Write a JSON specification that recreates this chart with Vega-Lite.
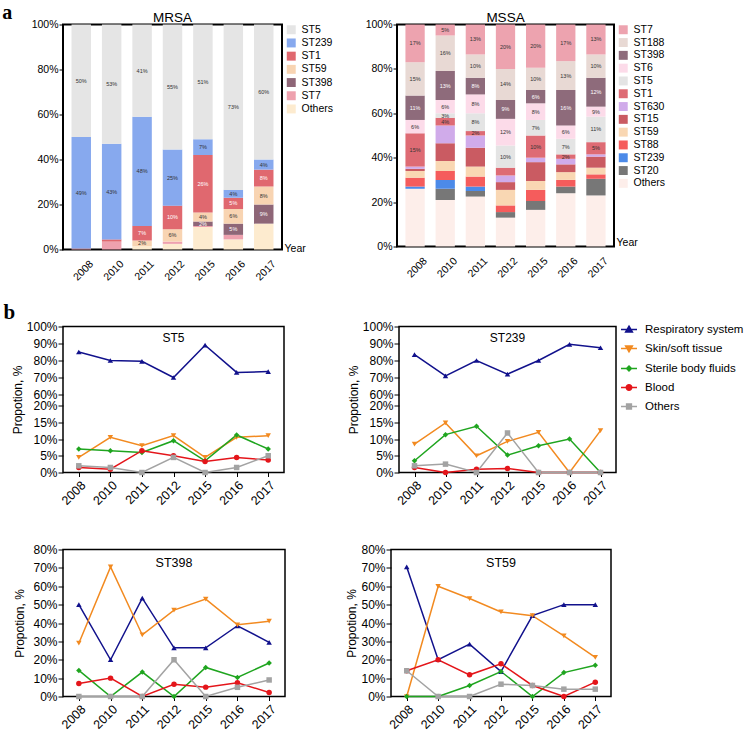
{
  "$schema": "https://vega.github.io/schema/vega-lite/v6.json",
  "padding": {"left": 2, "top": 2.5, "right": 0, "bottom": 0},
  "background": "white",
  "config": {
    "font": "Liberation Sans",
    "axis": {"labelColor": "black", "titleColor": "black", "tickColor": "black", "domainColor": "black", "grid": false, "labelFont": "Liberation Sans", "titleFont": "Liberation Sans", "labelOverlap": false},
    "legend": {"labelColor": "black", "labelFont": "Liberation Sans"},
    "title": {"color": "black", "fontWeight": "normal", "font": "Liberation Sans"},
    "text": {"font": "Liberation Sans"}
  },
  "datasets": {
    "mrsa": [
      {"year": "2008", "ST": "ST7", "pct": 0.5, "label": ""},
      {"year": "2008", "ST": "ST239", "pct": 49.5, "label": "49%"},
      {"year": "2008", "ST": "ST5", "pct": 50, "label": "50%"},
      {"year": "2010", "ST": "ST7", "pct": 3.5, "label": ""},
      {"year": "2010", "ST": "ST1", "pct": 1, "label": ""},
      {"year": "2010", "ST": "ST239", "pct": 42.5, "label": "43%"},
      {"year": "2010", "ST": "ST5", "pct": 53, "label": "53%"},
      {"year": "2011", "ST": "Others", "pct": 1.5, "label": ""},
      {"year": "2011", "ST": "ST59", "pct": 2.5, "label": "2%"},
      {"year": "2011", "ST": "ST1", "pct": 6.5, "label": "7%"},
      {"year": "2011", "ST": "ST239", "pct": 48.5, "label": "48%"},
      {"year": "2011", "ST": "ST5", "pct": 41, "label": "41%"},
      {"year": "2012", "ST": "Others", "pct": 2.5, "label": ""},
      {"year": "2012", "ST": "ST7", "pct": 1, "label": ""},
      {"year": "2012", "ST": "ST59", "pct": 5.5, "label": "6%"},
      {"year": "2012", "ST": "ST1", "pct": 10.5, "label": "10%"},
      {"year": "2012", "ST": "ST239", "pct": 25, "label": "25%"},
      {"year": "2012", "ST": "ST5", "pct": 55.5, "label": "55%"},
      {"year": "2015", "ST": "Others", "pct": 10, "label": ""},
      {"year": "2015", "ST": "ST7", "pct": 0.5, "label": ""},
      {"year": "2015", "ST": "ST398", "pct": 2, "label": "2%"},
      {"year": "2015", "ST": "ST59", "pct": 4, "label": "4%"},
      {"year": "2015", "ST": "ST1", "pct": 25.5, "label": "26%"},
      {"year": "2015", "ST": "ST239", "pct": 7, "label": "7%"},
      {"year": "2015", "ST": "ST5", "pct": 51, "label": "51%"},
      {"year": "2016", "ST": "Others", "pct": 4.5, "label": ""},
      {"year": "2016", "ST": "ST7", "pct": 2, "label": ""},
      {"year": "2016", "ST": "ST398", "pct": 5, "label": "5%"},
      {"year": "2016", "ST": "ST59", "pct": 6.5, "label": "6%"},
      {"year": "2016", "ST": "ST1", "pct": 5, "label": "5%"},
      {"year": "2016", "ST": "ST239", "pct": 3.5, "label": "4%"},
      {"year": "2016", "ST": "ST5", "pct": 73.5, "label": "73%"},
      {"year": "2017", "ST": "Others", "pct": 11.5, "label": ""},
      {"year": "2017", "ST": "ST398", "pct": 8.5, "label": "9%"},
      {"year": "2017", "ST": "ST59", "pct": 8, "label": "8%"},
      {"year": "2017", "ST": "ST1", "pct": 7.5, "label": "8%"},
      {"year": "2017", "ST": "ST239", "pct": 4.5, "label": "4%"},
      {"year": "2017", "ST": "ST5", "pct": 60, "label": "60%"}
    ],
    "mssa": [
      {"year": "2008", "ST": "Others", "pct": 26, "label": ""},
      {"year": "2008", "ST": "ST239", "pct": 1, "label": ""},
      {"year": "2008", "ST": "ST88", "pct": 4, "label": ""},
      {"year": "2008", "ST": "ST59", "pct": 3, "label": ""},
      {"year": "2008", "ST": "ST15", "pct": 1, "label": ""},
      {"year": "2008", "ST": "ST630", "pct": 1, "label": ""},
      {"year": "2008", "ST": "ST1", "pct": 15, "label": "15%"},
      {"year": "2008", "ST": "ST6", "pct": 6, "label": "6%"},
      {"year": "2008", "ST": "ST398", "pct": 11, "label": "11%"},
      {"year": "2008", "ST": "ST188", "pct": 15, "label": "15%"},
      {"year": "2008", "ST": "ST7", "pct": 17, "label": "17%"},
      {"year": "2010", "ST": "Others", "pct": 21, "label": ""},
      {"year": "2010", "ST": "ST20", "pct": 5, "label": ""},
      {"year": "2010", "ST": "ST239", "pct": 4, "label": ""},
      {"year": "2010", "ST": "ST88", "pct": 4, "label": ""},
      {"year": "2010", "ST": "ST59", "pct": 4.5, "label": ""},
      {"year": "2010", "ST": "ST15", "pct": 8, "label": ""},
      {"year": "2010", "ST": "ST630", "pct": 8, "label": ""},
      {"year": "2010", "ST": "ST1", "pct": 3.5, "label": "4%"},
      {"year": "2010", "ST": "ST5", "pct": 2, "label": "3%"},
      {"year": "2010", "ST": "ST6", "pct": 6, "label": "6%"},
      {"year": "2010", "ST": "ST398", "pct": 13, "label": "13%"},
      {"year": "2010", "ST": "ST188", "pct": 16, "label": "16%"},
      {"year": "2010", "ST": "ST7", "pct": 5, "label": "5%"},
      {"year": "2011", "ST": "Others", "pct": 22.5, "label": ""},
      {"year": "2011", "ST": "ST20", "pct": 2.5, "label": ""},
      {"year": "2011", "ST": "ST239", "pct": 2, "label": ""},
      {"year": "2011", "ST": "ST88", "pct": 4.5, "label": ""},
      {"year": "2011", "ST": "ST59", "pct": 4.5, "label": ""},
      {"year": "2011", "ST": "ST15", "pct": 8.5, "label": ""},
      {"year": "2011", "ST": "ST630", "pct": 5.5, "label": ""},
      {"year": "2011", "ST": "ST1", "pct": 2, "label": "2%"},
      {"year": "2011", "ST": "ST5", "pct": 8, "label": "8%"},
      {"year": "2011", "ST": "ST6", "pct": 8.5, "label": "8%"},
      {"year": "2011", "ST": "ST398", "pct": 7.5, "label": "8%"},
      {"year": "2011", "ST": "ST188", "pct": 10.5, "label": "10%"},
      {"year": "2011", "ST": "ST7", "pct": 13.5, "label": "13%"},
      {"year": "2012", "ST": "Others", "pct": 13, "label": ""},
      {"year": "2012", "ST": "ST20", "pct": 2.5, "label": ""},
      {"year": "2012", "ST": "ST88", "pct": 3, "label": ""},
      {"year": "2012", "ST": "ST59", "pct": 7, "label": ""},
      {"year": "2012", "ST": "ST15", "pct": 3.5, "label": ""},
      {"year": "2012", "ST": "ST630", "pct": 3, "label": ""},
      {"year": "2012", "ST": "ST1", "pct": 3.5, "label": ""},
      {"year": "2012", "ST": "ST5", "pct": 10, "label": "10%"},
      {"year": "2012", "ST": "ST6", "pct": 12, "label": "12%"},
      {"year": "2012", "ST": "ST398", "pct": 8.5, "label": "9%"},
      {"year": "2012", "ST": "ST188", "pct": 14, "label": "14%"},
      {"year": "2012", "ST": "ST7", "pct": 20, "label": "20%"},
      {"year": "2015", "ST": "Others", "pct": 16.5, "label": ""},
      {"year": "2015", "ST": "ST20", "pct": 4, "label": ""},
      {"year": "2015", "ST": "ST88", "pct": 5, "label": ""},
      {"year": "2015", "ST": "ST59", "pct": 4, "label": ""},
      {"year": "2015", "ST": "ST15", "pct": 8.5, "label": ""},
      {"year": "2015", "ST": "ST630", "pct": 2, "label": ""},
      {"year": "2015", "ST": "ST1", "pct": 10, "label": "10%"},
      {"year": "2015", "ST": "ST5", "pct": 7, "label": "7%"},
      {"year": "2015", "ST": "ST6", "pct": 7.5, "label": "8%"},
      {"year": "2015", "ST": "ST398", "pct": 6, "label": "6%"},
      {"year": "2015", "ST": "ST188", "pct": 10, "label": "10%"},
      {"year": "2015", "ST": "ST7", "pct": 19.5, "label": "20%"},
      {"year": "2016", "ST": "Others", "pct": 24, "label": ""},
      {"year": "2016", "ST": "ST20", "pct": 3, "label": ""},
      {"year": "2016", "ST": "ST88", "pct": 3, "label": ""},
      {"year": "2016", "ST": "ST59", "pct": 3.5, "label": ""},
      {"year": "2016", "ST": "ST15", "pct": 3.5, "label": ""},
      {"year": "2016", "ST": "ST630", "pct": 2.5, "label": ""},
      {"year": "2016", "ST": "ST1", "pct": 2, "label": "2%"},
      {"year": "2016", "ST": "ST5", "pct": 7, "label": "7%"},
      {"year": "2016", "ST": "ST6", "pct": 6, "label": "6%"},
      {"year": "2016", "ST": "ST398", "pct": 16, "label": "16%"},
      {"year": "2016", "ST": "ST188", "pct": 13, "label": "13%"},
      {"year": "2016", "ST": "ST7", "pct": 16.5, "label": "17%"},
      {"year": "2017", "ST": "Others", "pct": 23, "label": ""},
      {"year": "2017", "ST": "ST20", "pct": 7.5, "label": ""},
      {"year": "2017", "ST": "ST88", "pct": 2, "label": ""},
      {"year": "2017", "ST": "ST59", "pct": 3, "label": ""},
      {"year": "2017", "ST": "ST15", "pct": 5, "label": ""},
      {"year": "2017", "ST": "ST630", "pct": 1, "label": ""},
      {"year": "2017", "ST": "ST1", "pct": 5.5, "label": "5%"},
      {"year": "2017", "ST": "ST5", "pct": 11.5, "label": "11%"},
      {"year": "2017", "ST": "ST6", "pct": 4.5, "label": "9%"},
      {"year": "2017", "ST": "ST398", "pct": 13, "label": "12%"},
      {"year": "2017", "ST": "ST188", "pct": 10.5, "label": "10%"},
      {"year": "2017", "ST": "ST7", "pct": 13.5, "label": "13%"}
    ],
    "lines": [
      {"panel": "ST5", "site": "Respiratory system", "year": "2008", "pct": 85},
      {"panel": "ST5", "site": "Respiratory system", "year": "2010", "pct": 80},
      {"panel": "ST5", "site": "Respiratory system", "year": "2011", "pct": 79.5},
      {"panel": "ST5", "site": "Respiratory system", "year": "2012", "pct": 70},
      {"panel": "ST5", "site": "Respiratory system", "year": "2015", "pct": 89},
      {"panel": "ST5", "site": "Respiratory system", "year": "2016", "pct": 73},
      {"panel": "ST5", "site": "Respiratory system", "year": "2017", "pct": 73.5},
      {"panel": "ST5", "site": "Skin/soft tissue", "year": "2008", "pct": 4.5},
      {"panel": "ST5", "site": "Skin/soft tissue", "year": "2010", "pct": 10.5},
      {"panel": "ST5", "site": "Skin/soft tissue", "year": "2011", "pct": 8},
      {"panel": "ST5", "site": "Skin/soft tissue", "year": "2012", "pct": 11},
      {"panel": "ST5", "site": "Skin/soft tissue", "year": "2015", "pct": 4.5},
      {"panel": "ST5", "site": "Skin/soft tissue", "year": "2016", "pct": 10.5},
      {"panel": "ST5", "site": "Skin/soft tissue", "year": "2017", "pct": 11},
      {"panel": "ST5", "site": "Sterile body fluids", "year": "2008", "pct": 7},
      {"panel": "ST5", "site": "Sterile body fluids", "year": "2010", "pct": 6.5},
      {"panel": "ST5", "site": "Sterile body fluids", "year": "2011", "pct": 6},
      {"panel": "ST5", "site": "Sterile body fluids", "year": "2012", "pct": 9.5},
      {"panel": "ST5", "site": "Sterile body fluids", "year": "2015", "pct": 3.5},
      {"panel": "ST5", "site": "Sterile body fluids", "year": "2016", "pct": 11.2},
      {"panel": "ST5", "site": "Sterile body fluids", "year": "2017", "pct": 7},
      {"panel": "ST5", "site": "Blood", "year": "2008", "pct": 1.5},
      {"panel": "ST5", "site": "Blood", "year": "2010", "pct": 1},
      {"panel": "ST5", "site": "Blood", "year": "2011", "pct": 6.5},
      {"panel": "ST5", "site": "Blood", "year": "2012", "pct": 5},
      {"panel": "ST5", "site": "Blood", "year": "2015", "pct": 3.3},
      {"panel": "ST5", "site": "Blood", "year": "2016", "pct": 4.5},
      {"panel": "ST5", "site": "Blood", "year": "2017", "pct": 3.7},
      {"panel": "ST5", "site": "Others", "year": "2008", "pct": 2},
      {"panel": "ST5", "site": "Others", "year": "2010", "pct": 1.5},
      {"panel": "ST5", "site": "Others", "year": "2011", "pct": 0},
      {"panel": "ST5", "site": "Others", "year": "2012", "pct": 4.5},
      {"panel": "ST5", "site": "Others", "year": "2015", "pct": 0},
      {"panel": "ST5", "site": "Others", "year": "2016", "pct": 1.5},
      {"panel": "ST5", "site": "Others", "year": "2017", "pct": 5},
      {"panel": "ST239", "site": "Respiratory system", "year": "2008", "pct": 83.5},
      {"panel": "ST239", "site": "Respiratory system", "year": "2010", "pct": 71},
      {"panel": "ST239", "site": "Respiratory system", "year": "2011", "pct": 80},
      {"panel": "ST239", "site": "Respiratory system", "year": "2012", "pct": 72},
      {"panel": "ST239", "site": "Respiratory system", "year": "2015", "pct": 80},
      {"panel": "ST239", "site": "Respiratory system", "year": "2016", "pct": 89.5},
      {"panel": "ST239", "site": "Respiratory system", "year": "2017", "pct": 87.5},
      {"panel": "ST239", "site": "Skin/soft tissue", "year": "2008", "pct": 8.5},
      {"panel": "ST239", "site": "Skin/soft tissue", "year": "2010", "pct": 14.8},
      {"panel": "ST239", "site": "Skin/soft tissue", "year": "2011", "pct": 5},
      {"panel": "ST239", "site": "Skin/soft tissue", "year": "2012", "pct": 9.3},
      {"panel": "ST239", "site": "Skin/soft tissue", "year": "2015", "pct": 12},
      {"panel": "ST239", "site": "Skin/soft tissue", "year": "2016", "pct": 0},
      {"panel": "ST239", "site": "Skin/soft tissue", "year": "2017", "pct": 12.5},
      {"panel": "ST239", "site": "Sterile body fluids", "year": "2008", "pct": 3.5},
      {"panel": "ST239", "site": "Sterile body fluids", "year": "2010", "pct": 11.3},
      {"panel": "ST239", "site": "Sterile body fluids", "year": "2011", "pct": 13.8},
      {"panel": "ST239", "site": "Sterile body fluids", "year": "2012", "pct": 5.2},
      {"panel": "ST239", "site": "Sterile body fluids", "year": "2015", "pct": 8},
      {"panel": "ST239", "site": "Sterile body fluids", "year": "2016", "pct": 10},
      {"panel": "ST239", "site": "Sterile body fluids", "year": "2017", "pct": 0},
      {"panel": "ST239", "site": "Blood", "year": "2008", "pct": 1.5},
      {"panel": "ST239", "site": "Blood", "year": "2010", "pct": 0},
      {"panel": "ST239", "site": "Blood", "year": "2011", "pct": 1},
      {"panel": "ST239", "site": "Blood", "year": "2012", "pct": 1.2},
      {"panel": "ST239", "site": "Blood", "year": "2015", "pct": 0},
      {"panel": "ST239", "site": "Blood", "year": "2016", "pct": 0},
      {"panel": "ST239", "site": "Blood", "year": "2017", "pct": 0},
      {"panel": "ST239", "site": "Others", "year": "2008", "pct": 2},
      {"panel": "ST239", "site": "Others", "year": "2010", "pct": 2.5},
      {"panel": "ST239", "site": "Others", "year": "2011", "pct": 0},
      {"panel": "ST239", "site": "Others", "year": "2012", "pct": 11.8},
      {"panel": "ST239", "site": "Others", "year": "2015", "pct": 0},
      {"panel": "ST239", "site": "Others", "year": "2016", "pct": 0},
      {"panel": "ST239", "site": "Others", "year": "2017", "pct": 0},
      {"panel": "ST398", "site": "Respiratory system", "year": "2008", "pct": 50},
      {"panel": "ST398", "site": "Respiratory system", "year": "2010", "pct": 20},
      {"panel": "ST398", "site": "Respiratory system", "year": "2011", "pct": 53.5},
      {"panel": "ST398", "site": "Respiratory system", "year": "2012", "pct": 26.5},
      {"panel": "ST398", "site": "Respiratory system", "year": "2015", "pct": 26.5},
      {"panel": "ST398", "site": "Respiratory system", "year": "2016", "pct": 38.5},
      {"panel": "ST398", "site": "Respiratory system", "year": "2017", "pct": 29.5},
      {"panel": "ST398", "site": "Skin/soft tissue", "year": "2008", "pct": 29},
      {"panel": "ST398", "site": "Skin/soft tissue", "year": "2010", "pct": 70.5},
      {"panel": "ST398", "site": "Skin/soft tissue", "year": "2011", "pct": 33.5},
      {"panel": "ST398", "site": "Skin/soft tissue", "year": "2012", "pct": 47},
      {"panel": "ST398", "site": "Skin/soft tissue", "year": "2015", "pct": 53},
      {"panel": "ST398", "site": "Skin/soft tissue", "year": "2016", "pct": 39},
      {"panel": "ST398", "site": "Skin/soft tissue", "year": "2017", "pct": 41},
      {"panel": "ST398", "site": "Sterile body fluids", "year": "2008", "pct": 14.2},
      {"panel": "ST398", "site": "Sterile body fluids", "year": "2010", "pct": 0},
      {"panel": "ST398", "site": "Sterile body fluids", "year": "2011", "pct": 13.3},
      {"panel": "ST398", "site": "Sterile body fluids", "year": "2012", "pct": 0},
      {"panel": "ST398", "site": "Sterile body fluids", "year": "2015", "pct": 15.8},
      {"panel": "ST398", "site": "Sterile body fluids", "year": "2016", "pct": 10.4},
      {"panel": "ST398", "site": "Sterile body fluids", "year": "2017", "pct": 18.2},
      {"panel": "ST398", "site": "Blood", "year": "2008", "pct": 7.1},
      {"panel": "ST398", "site": "Blood", "year": "2010", "pct": 10},
      {"panel": "ST398", "site": "Blood", "year": "2011", "pct": 0},
      {"panel": "ST398", "site": "Blood", "year": "2012", "pct": 6.7},
      {"panel": "ST398", "site": "Blood", "year": "2015", "pct": 5.1},
      {"panel": "ST398", "site": "Blood", "year": "2016", "pct": 7.5},
      {"panel": "ST398", "site": "Blood", "year": "2017", "pct": 2.2},
      {"panel": "ST398", "site": "Others", "year": "2008", "pct": 0},
      {"panel": "ST398", "site": "Others", "year": "2010", "pct": 0},
      {"panel": "ST398", "site": "Others", "year": "2011", "pct": 0},
      {"panel": "ST398", "site": "Others", "year": "2012", "pct": 20},
      {"panel": "ST398", "site": "Others", "year": "2015", "pct": 0},
      {"panel": "ST398", "site": "Others", "year": "2016", "pct": 5},
      {"panel": "ST398", "site": "Others", "year": "2017", "pct": 9},
      {"panel": "ST59", "site": "Respiratory system", "year": "2008", "pct": 70.5},
      {"panel": "ST59", "site": "Respiratory system", "year": "2010", "pct": 20},
      {"panel": "ST59", "site": "Respiratory system", "year": "2011", "pct": 28.5},
      {"panel": "ST59", "site": "Respiratory system", "year": "2012", "pct": 13.6},
      {"panel": "ST59", "site": "Respiratory system", "year": "2015", "pct": 44},
      {"panel": "ST59", "site": "Respiratory system", "year": "2016", "pct": 50},
      {"panel": "ST59", "site": "Respiratory system", "year": "2017", "pct": 50},
      {"panel": "ST59", "site": "Skin/soft tissue", "year": "2008", "pct": 0},
      {"panel": "ST59", "site": "Skin/soft tissue", "year": "2010", "pct": 60},
      {"panel": "ST59", "site": "Skin/soft tissue", "year": "2011", "pct": 53.3},
      {"panel": "ST59", "site": "Skin/soft tissue", "year": "2012", "pct": 46},
      {"panel": "ST59", "site": "Skin/soft tissue", "year": "2015", "pct": 44},
      {"panel": "ST59", "site": "Skin/soft tissue", "year": "2016", "pct": 33},
      {"panel": "ST59", "site": "Skin/soft tissue", "year": "2017", "pct": 21.3},
      {"panel": "ST59", "site": "Sterile body fluids", "year": "2008", "pct": 0},
      {"panel": "ST59", "site": "Sterile body fluids", "year": "2010", "pct": 0},
      {"panel": "ST59", "site": "Sterile body fluids", "year": "2011", "pct": 6},
      {"panel": "ST59", "site": "Sterile body fluids", "year": "2012", "pct": 13.6},
      {"panel": "ST59", "site": "Sterile body fluids", "year": "2015", "pct": 0},
      {"panel": "ST59", "site": "Sterile body fluids", "year": "2016", "pct": 13},
      {"panel": "ST59", "site": "Sterile body fluids", "year": "2017", "pct": 17},
      {"panel": "ST59", "site": "Blood", "year": "2008", "pct": 14},
      {"panel": "ST59", "site": "Blood", "year": "2010", "pct": 20},
      {"panel": "ST59", "site": "Blood", "year": "2011", "pct": 11.8},
      {"panel": "ST59", "site": "Blood", "year": "2012", "pct": 17.8},
      {"panel": "ST59", "site": "Blood", "year": "2015", "pct": 6},
      {"panel": "ST59", "site": "Blood", "year": "2016", "pct": 0},
      {"panel": "ST59", "site": "Blood", "year": "2017", "pct": 7.8},
      {"panel": "ST59", "site": "Others", "year": "2008", "pct": 14},
      {"panel": "ST59", "site": "Others", "year": "2010", "pct": 0},
      {"panel": "ST59", "site": "Others", "year": "2011", "pct": 0},
      {"panel": "ST59", "site": "Others", "year": "2012", "pct": 6.7},
      {"panel": "ST59", "site": "Others", "year": "2015", "pct": 6},
      {"panel": "ST59", "site": "Others", "year": "2016", "pct": 4},
      {"panel": "ST59", "site": "Others", "year": "2017", "pct": 4}
    ]
  },
  "spacing": 18,
  "resolve": {"scale": {"color": "independent", "shape": "independent"}},
  "vconcat": [
    {
      "title": {"text": "a", "anchor": "start", "font": "Liberation Serif", "fontSize": 20, "fontWeight": "bold", "offset": -12.75, "dx": -28},
      "spacing": 29,
      "resolve": {"scale": {"color": "independent", "shape": "independent"}},
      "hconcat": [
        {
          "width": 219, "height": 225,
          "title": {"text": "MRSA", "fontSize": 13.5, "offset": -5, "frame": "group"},
          "data": {"name": "mrsa"},
          "view": {"stroke": "black", "strokeWidth": 2},
          "transform": [{"stack": "pct", "groupby": ["year"], "as": ["v0", "v1"]}],
          "layer": [
            {
              "mark": {"type": "bar"},
              "encoding": {
                "x": {"field": "year", "type": "ordinal", "scale": {"paddingInner": 0.36, "paddingOuter": 0.28},
                  "axis": {"title": "Year", "titleX": 221, "titleY": -1, "titleAlign": "left", "titleBaseline": "middle", "titleFontSize": 10.5, "titleFontWeight": "normal", "titleAngle": 0, "labelAngle": -45, "labelFontSize": 10.5, "ticks": false, "domain": false, "labelPadding": 9, "labelOffset": 7}},
                "y": {"field": "v0", "type": "quantitative", "scale": {"domain": [0, 100], "nice": false},
                  "axis": {"title": null, "values": [0, 20, 40, 60, 80, 100], "labelExpr": "datum.value + '%'", "labelFontSize": 10.5, "tickSize": 4, "domain": false, "labelPadding": 1}},
                "y2": {"field": "v1"},
                "color": {"field": "ST", "type": "nominal",
                  "scale": {"domain": ["ST5", "ST239", "ST1", "ST59", "ST398", "ST7", "Others"], "range": ["#e5e5e5", "#87a9ee", "#e0686f", "#f8d4b2", "#8e6677", "#eea1ae", "#fdebcf"]},
                  "legend": {"title": null, "offset": 4, "padding": 0, "symbolType": "square", "symbolSize": 80, "symbolStrokeWidth": 0, "labelFontSize": 10.5, "labelOffset": 5, "rowPadding": 2.2}}
              }
            },
            {
              "transform": [{"filter": "datum.label != ''"}, {"fold": ["v0", "v1"], "as": ["edge", "v"]}],
              "mark": {"type": "text", "fontSize": 5.5},
              "encoding": {
                "x": {"field": "year", "type": "ordinal"},
                "y": {"aggregate": "mean", "field": "v", "type": "quantitative",
                  "axis": {"title": null, "values": [0, 20, 40, 60, 80, 100], "labelExpr": "datum.value + '%'", "labelFontSize": 10.5, "tickSize": 4, "domain": false, "labelPadding": 1}},
                "detail": {"field": "ST", "type": "nominal"},
                "text": {"field": "label", "type": "nominal"},
                "color": {"condition": {"test": "datum.ST === 'ST1' || datum.ST === 'ST398'", "value": "white"}, "value": "#333333"}
              }
            }
          ]
        },
        {
          "width": 217, "height": 222,
          "title": {"text": "MSSA", "fontSize": 13.5, "offset": -5, "frame": "group"},
          "data": {"name": "mssa"},
          "view": {"stroke": "black", "strokeWidth": 2},
          "transform": [{"stack": "pct", "groupby": ["year"], "as": ["v0", "v1"]}],
          "layer": [
            {
              "mark": {"type": "bar"},
              "encoding": {
                "x": {"field": "year", "type": "ordinal", "scale": {"paddingInner": 0.36, "paddingOuter": 0.28},
                  "axis": {"title": "Year", "titleX": 219, "titleY": -4, "titleAlign": "left", "titleBaseline": "middle", "titleFontSize": 10.5, "titleFontWeight": "normal", "titleAngle": 0, "labelAngle": -45, "labelFontSize": 10.5, "ticks": false, "domain": false, "labelPadding": 9, "labelOffset": 7}},
                "y": {"field": "v0", "type": "quantitative", "scale": {"domain": [0, 100], "nice": false},
                  "axis": {"title": null, "values": [0, 20, 40, 60, 80, 100], "labelExpr": "datum.value + '%'", "labelFontSize": 10.5, "tickSize": 4, "domain": false, "labelPadding": 1}},
                "y2": {"field": "v1"},
                "color": {"field": "ST", "type": "nominal",
                  "scale": {"domain": ["ST7", "ST188", "ST398", "ST6", "ST5", "ST1", "ST630", "ST15", "ST59", "ST88", "ST239", "ST20", "Others"], "range": ["#eda3af", "#e8d9d4", "#8e6b7b", "#fcdbe9", "#e4e4e4", "#de6b74", "#d0abea", "#ca5b62", "#f9d7b3", "#f55c5c", "#4c8ae8", "#777777", "#fdeeea"]},
                  "legend": {"title": null, "offset": 4, "padding": 0, "symbolType": "square", "symbolSize": 80, "symbolStrokeWidth": 0, "labelFontSize": 10.5, "labelOffset": 5, "rowPadding": 1.8}}
              }
            },
            {
              "transform": [{"filter": "datum.label != ''"}, {"fold": ["v0", "v1"], "as": ["edge", "v"]}],
              "mark": {"type": "text", "fontSize": 5.5},
              "encoding": {
                "x": {"field": "year", "type": "ordinal"},
                "y": {"aggregate": "mean", "field": "v", "type": "quantitative",
                  "axis": {"title": null, "values": [0, 20, 40, 60, 80, 100], "labelExpr": "datum.value + '%'", "labelFontSize": 10.5, "tickSize": 4, "domain": false, "labelPadding": 1}},
                "detail": {"field": "ST", "type": "nominal"},
                "text": {"field": "label", "type": "nominal"},
                "color": {"condition": {"test": "datum.ST === 'ST398'", "value": "white"}, "value": "#333333"}
              }
            }
          ]
        }
      ]
    },
    {
      "title": {"text": "b", "anchor": "start", "font": "Liberation Serif", "fontSize": 21, "fontWeight": "bold", "offset": -3, "dx": -7},
      "spacing": 34,
      "resolve": {"scale": {"color": "independent", "shape": "independent"}},
      "vconcat": [
        {
          "spacing": 61,
          "resolve": {"scale": {"color": "independent", "shape": "independent"}},
          "hconcat": [
            {
              "width": 221, "height": 146,
              "title": {"text": "ST5", "fontSize": 12, "offset": -24, "frame": "group"},
              "data": {"name": "lines"},
              "transform": [{"filter": "datum.panel === 'ST5'"}],
              "view": {"stroke": "black", "strokeWidth": 1.5},
              "encoding": {
                "x": {"field": "year", "type": "ordinal", "scale": {"type": "point", "padding": 0.5},
                  "axis": {"title": null, "labelAngle": -45, "labelFontSize": 12.5, "tickSize": 4, "labelPadding": 2, "domain": false}},
                "y": {"field": "pct", "type": "quantitative", "scale": {"domain": [0, 20, 60, 100], "range": [146, 79, 68, 0], "nice": false, "zero": false},
                  "axis": {"title": "Propotion, %", "titleFontSize": 12, "titleFontWeight": "normal", "titlePadding": 2, "values": [0, 5, 10, 15, 20, 60, 70, 80, 90, 100], "labelExpr": "datum.value + '%'", "labelFontSize": 12, "tickSize": 5, "labelPadding": 1, "domain": false}},
                "color": {"field": "site", "type": "nominal", "scale": {"domain": ["Respiratory system", "Skin/soft tissue", "Sterile body fluids", "Blood", "Others"], "range": ["#11118c", "#f28a20", "#1fa51f", "#e4151a", "#a3a3a3"]}, "legend": null}
              },
              "layer": [
                {"mark": {"type": "line", "strokeWidth": 1.5}},
                {"mark": {"type": "point", "filled": true, "size": 30, "opacity": 1},
                 "encoding": {"shape": {"field": "site", "type": "nominal", "scale": {"domain": ["Respiratory system", "Skin/soft tissue", "Sterile body fluids", "Blood", "Others"], "range": ["triangle-up", "triangle-down", "diamond", "circle", "square"]}, "legend": null}}}
              ]
            },
            {
              "width": 217, "height": 146,
              "title": {"text": "ST239", "fontSize": 12, "offset": -24, "frame": "group"},
              "data": {"name": "lines"},
              "transform": [{"filter": "datum.panel === 'ST239'"}],
              "view": {"stroke": "black", "strokeWidth": 1.5},
              "encoding": {
                "x": {"field": "year", "type": "ordinal", "scale": {"type": "point", "padding": 0.5},
                  "axis": {"title": null, "labelAngle": -45, "labelFontSize": 12.5, "tickSize": 4, "labelPadding": 2, "domain": false}},
                "y": {"field": "pct", "type": "quantitative", "scale": {"domain": [0, 20, 60, 100], "range": [146, 79, 68, 0], "nice": false, "zero": false},
                  "axis": {"title": "Propotion, %", "titleFontSize": 12, "titleFontWeight": "normal", "titlePadding": 2, "values": [0, 5, 10, 15, 20, 60, 70, 80, 90, 100], "labelExpr": "datum.value + '%'", "labelFontSize": 12, "tickSize": 5, "labelPadding": 1, "domain": false}},
                "color": {"field": "site", "type": "nominal", "scale": {"domain": ["Respiratory system", "Skin/soft tissue", "Sterile body fluids", "Blood", "Others"], "range": ["#11118c", "#f28a20", "#1fa51f", "#e4151a", "#a3a3a3"]},
                  "legend": {"title": null, "orient": "none", "legendX": 221, "legendY": -6, "padding": 0, "labelFontSize": 11.5, "labelOffset": 7, "rowPadding": 4, "symbolSize": 256, "symbolStrokeWidth": 1.5,
                    "encode": {"symbols": {"update": {
                      "shape": {"signal": "datum.value === 'Respiratory system' ? 'M-1,0H1M0,-0.42L0.42,0.3L-0.42,0.3Z' : datum.value === 'Skin/soft tissue' ? 'M-1,0H1M-0.42,-0.3L0.42,-0.3L0,0.42Z' : datum.value === 'Sterile body fluids' ? 'M-1,0H1M0,-0.3L0.3,0L0,0.3L-0.3,0Z' : datum.value === 'Blood' ? 'M-1,0H1M0.34,0A0.34,0.34,0,1,1,-0.34,0A0.34,0.34,0,1,1,0.34,0Z' : 'M-1,0H1M-0.3,-0.3H0.3V0.3H-0.3Z'"},
                      "fill": {"signal": "datum.value === 'Respiratory system' ? '#11118c' : datum.value === 'Skin/soft tissue' ? '#f28a20' : datum.value === 'Sterile body fluids' ? '#1fa51f' : datum.value === 'Blood' ? '#e4151a' : '#a3a3a3'"},
                      "stroke": {"signal": "datum.value === 'Respiratory system' ? '#11118c' : datum.value === 'Skin/soft tissue' ? '#f28a20' : datum.value === 'Sterile body fluids' ? '#1fa51f' : datum.value === 'Blood' ? '#e4151a' : '#a3a3a3'"},
                      "strokeWidth": {"value": 1.5}
                    }}}}}
              },
              "layer": [
                {"mark": {"type": "line", "strokeWidth": 1.5}},
                {"mark": {"type": "point", "filled": true, "size": 30, "opacity": 1},
                 "encoding": {"shape": {"field": "site", "type": "nominal", "scale": {"domain": ["Others", "Blood", "Sterile body fluids", "Skin/soft tissue", "Respiratory system"], "range": ["square", "circle", "diamond", "triangle-down", "triangle-up"]}, "legend": null}}}
              ]
            }
          ]
        },
        {
          "spacing": 59,
          "resolve": {"scale": {"color": "independent", "shape": "independent"}},
          "hconcat": [
            {
              "width": 222, "height": 147,
              "title": {"text": "ST398", "fontSize": 12.5, "offset": -26, "frame": "group"},
              "data": {"name": "lines"},
              "transform": [{"filter": "datum.panel === 'ST398'"}],
              "view": {"stroke": "black", "strokeWidth": 1.5},
              "encoding": {
                "x": {"field": "year", "type": "ordinal", "scale": {"type": "point", "padding": 0.5},
                  "axis": {"title": null, "labelAngle": -45, "labelFontSize": 12.5, "tickSize": 4, "labelPadding": 2, "domain": false}},
                "y": {"field": "pct", "type": "quantitative", "scale": {"domain": [0, 80], "nice": false},
                  "axis": {"title": "Propotion, %", "titleFontSize": 12, "titleFontWeight": "normal", "titlePadding": 6, "values": [0, 10, 20, 30, 40, 50, 60, 70, 80], "labelExpr": "datum.value + '%'", "labelFontSize": 12, "tickSize": 5, "labelPadding": 1, "domain": false}},
                "color": {"field": "site", "type": "nominal", "scale": {"domain": ["Respiratory system", "Skin/soft tissue", "Sterile body fluids", "Blood", "Others"], "range": ["#11118c", "#f28a20", "#1fa51f", "#e4151a", "#a3a3a3"]}, "legend": null}
              },
              "layer": [
                {"mark": {"type": "line", "strokeWidth": 1.5}},
                {"mark": {"type": "point", "filled": true, "size": 30, "opacity": 1},
                 "encoding": {"shape": {"field": "site", "type": "nominal", "scale": {"domain": ["Respiratory system", "Skin/soft tissue", "Sterile body fluids", "Blood", "Others"], "range": ["triangle-up", "triangle-down", "diamond", "circle", "square"]}, "legend": null}}}
              ]
            },
            {
              "width": 220, "height": 147,
              "title": {"text": "ST59", "fontSize": 12.5, "offset": -26, "frame": "group"},
              "data": {"name": "lines"},
              "transform": [{"filter": "datum.panel === 'ST59'"}],
              "view": {"stroke": "black", "strokeWidth": 1.5},
              "encoding": {
                "x": {"field": "year", "type": "ordinal", "scale": {"type": "point", "padding": 0.5},
                  "axis": {"title": null, "labelAngle": -45, "labelFontSize": 12.5, "tickSize": 4, "labelPadding": 2, "domain": false}},
                "y": {"field": "pct", "type": "quantitative", "scale": {"domain": [0, 80], "nice": false},
                  "axis": {"title": "Propotion, %", "titleFontSize": 12, "titleFontWeight": "normal", "titlePadding": 2, "values": [0, 10, 20, 30, 40, 50, 60, 70, 80], "labelExpr": "datum.value + '%'", "labelFontSize": 12, "tickSize": 5, "labelPadding": 1, "domain": false}},
                "color": {"field": "site", "type": "nominal", "scale": {"domain": ["Respiratory system", "Skin/soft tissue", "Sterile body fluids", "Blood", "Others"], "range": ["#11118c", "#f28a20", "#1fa51f", "#e4151a", "#a3a3a3"]}, "legend": null}
              },
              "layer": [
                {"mark": {"type": "line", "strokeWidth": 1.5}},
                {"mark": {"type": "point", "filled": true, "size": 30, "opacity": 1},
                 "encoding": {"shape": {"field": "site", "type": "nominal", "scale": {"domain": ["Respiratory system", "Skin/soft tissue", "Sterile body fluids", "Blood", "Others"], "range": ["triangle-up", "triangle-down", "diamond", "circle", "square"]}, "legend": null}}}
              ]
            }
          ]
        }
      ]
    }
  ]
}
